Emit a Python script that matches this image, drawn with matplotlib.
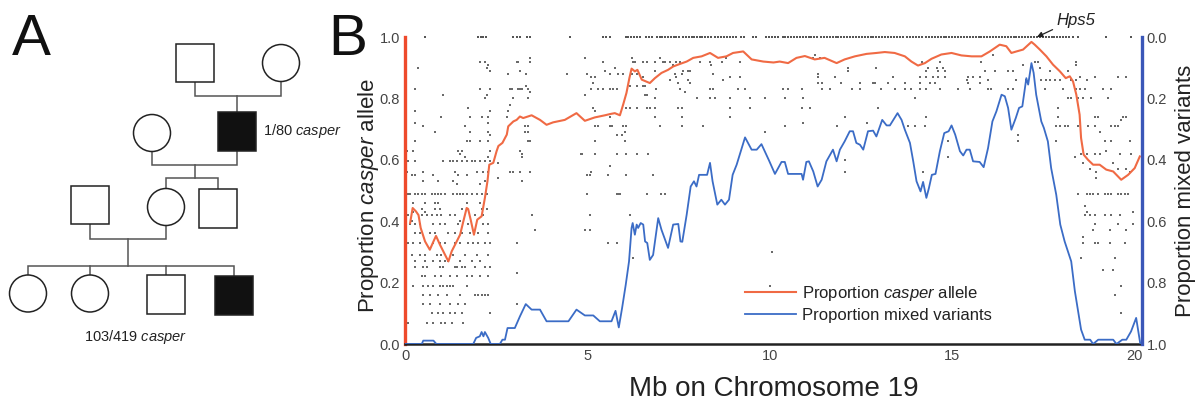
import matplotlib
matplotlib.use('Agg')
from matplotlib import pyplot as plt
from matplotlib.patches import Rectangle, Circle

plt.rcParams['font.family'] = ['Liberation Sans', 'DejaVu Sans']
plt.rcParams['mathtext.fontset'] = 'custom'
plt.rcParams['mathtext.rm'] = 'Liberation Sans'
plt.rcParams['mathtext.it'] = 'Liberation Sans:italic'

# smoothed proportion of casper allele along chr19 (Mb)
casper_x = [0.14, 0.21, 0.30, 0.37, 0.43, 0.55, 0.68, 0.78, 0.85, 0.96, 1.10, 1.19, 1.28, 1.37,
            1.51, 1.60, 1.69, 1.73, 1.80, 1.89, 1.98, 2.10, 2.19, 2.26, 2.31, 2.42, 2.51, 2.56,
            2.67, 2.79, 2.83, 2.97, 3.06, 3.15, 3.24, 3.47, 3.70, 3.88, 4.06, 4.38, 4.70, 4.93,
            5.20, 5.48, 5.62, 5.75, 5.89, 5.98, 6.07, 6.15, 6.21, 6.30, 6.37, 6.49, 6.71, 6.85,
            7.03, 7.21, 7.35, 7.53, 7.72, 7.90, 8.13, 8.36, 8.58, 8.81, 8.99, 9.27, 9.50, 9.82,
            10.10, 10.27, 10.50, 10.73, 10.96, 11.23, 11.50, 11.83, 12.05, 12.33, 12.65, 12.92,
            13.15, 13.42, 13.70, 13.88, 14.06, 14.25, 14.43, 14.70, 14.98, 15.25, 15.53, 15.80,
            16.03, 16.30, 16.48, 16.62, 16.76, 16.94, 17.17, 17.26, 17.40, 17.58, 17.76, 17.95,
            18.11, 18.22, 18.31, 18.40, 18.49, 18.53, 18.60, 18.72, 18.86, 19.04, 19.22, 19.41,
            19.63, 19.82, 20.00, 20.14]
casper_y = [0.394, 0.443, 0.432, 0.420, 0.378, 0.334, 0.307, 0.334, 0.352, 0.323, 0.290, 0.269,
            0.302, 0.323, 0.356, 0.400, 0.443, 0.440, 0.405, 0.356, 0.405, 0.416, 0.476, 0.530,
            0.584, 0.590, 0.628, 0.645, 0.655, 0.682, 0.709, 0.725, 0.730, 0.741, 0.736, 0.745,
            0.730, 0.714, 0.722, 0.730, 0.752, 0.727, 0.738, 0.745, 0.749, 0.752, 0.745, 0.780,
            0.818, 0.866, 0.897, 0.888, 0.893, 0.861, 0.850, 0.866, 0.883, 0.893, 0.904, 0.912,
            0.920, 0.932, 0.937, 0.948, 0.932, 0.937, 0.948, 0.953, 0.927, 0.920, 0.917, 0.920,
            0.915, 0.932, 0.938, 0.927, 0.932, 0.915, 0.927, 0.937, 0.945, 0.948, 0.951, 0.948,
            0.937, 0.920, 0.907, 0.915, 0.929, 0.943, 0.948, 0.940, 0.937, 0.937, 0.953, 0.975,
            0.970, 0.948, 0.953, 0.959, 0.984, 0.975, 0.959, 0.937, 0.910, 0.888, 0.866, 0.872,
            0.855, 0.812, 0.747, 0.671, 0.617, 0.600, 0.584, 0.584, 0.568, 0.562, 0.535, 0.551,
            0.573, 0.611]

# proportion of mixed variants (right axis, inverted)
mixed_x = [0.00, 0.46, 0.50, 0.78, 0.86, 1.87, 1.95, 2.05, 2.10, 2.15, 2.19, 2.28, 2.35, 2.60,
           2.67, 2.74, 2.81, 3.01, 3.15, 3.31, 3.47, 3.70, 3.88, 4.48, 4.70, 4.93, 5.16, 5.34,
           5.66, 5.77, 5.86, 5.95, 6.05, 6.14, 6.21, 6.24, 6.30, 6.35, 6.39, 6.46, 6.53, 6.58,
           6.64, 6.71, 6.80, 6.94, 7.03, 7.21, 7.35, 7.49, 7.55, 7.60, 7.72, 7.83, 7.92, 7.99,
           8.06, 8.28, 8.36, 8.43, 8.56, 8.67, 8.77, 8.88, 8.98, 9.09, 9.32, 9.50, 9.64, 9.77,
           9.98, 10.14, 10.32, 10.41, 10.50, 10.87, 10.91, 11.00, 11.07, 11.19, 11.31, 11.42,
           11.55, 11.73, 11.83, 11.92, 12.05, 12.19, 12.28, 12.37, 12.47, 12.56, 12.69, 12.83,
           12.92, 13.08, 13.20, 13.29, 13.50, 13.61, 13.70, 13.84, 13.93, 14.02, 14.13, 14.20,
           14.29, 14.36, 14.44, 14.54, 14.66, 14.78, 14.90, 14.98, 15.08, 15.21, 15.30, 15.39,
           15.48, 15.57, 15.75, 15.86, 15.98, 16.10, 16.21, 16.35, 16.44, 16.53, 16.62, 16.74,
           16.83, 16.92, 17.03, 17.08, 17.17, 17.23, 17.30, 17.37, 17.44, 17.51, 17.62, 17.71,
           17.85, 17.96, 18.08, 18.17, 18.26, 18.36, 18.45, 18.53, 18.63, 18.78, 18.86, 19.00,
           19.41, 19.50, 19.66, 19.77, 19.90, 20.04, 20.15]
mixed_y = [1.000, 1.000, 0.989, 0.989, 1.000, 1.000, 0.980, 0.975, 0.961, 0.975, 0.961, 0.980,
           1.000, 1.000, 0.986, 0.986, 0.948, 0.948, 0.910, 0.870, 0.888, 0.888, 0.926, 0.926,
           0.888, 0.907, 0.907, 0.926, 0.926, 0.892, 0.946, 0.883, 0.807, 0.731, 0.622, 0.606,
           0.644, 0.611, 0.622, 0.606, 0.611, 0.666, 0.671, 0.726, 0.710, 0.590, 0.628, 0.687,
           0.611, 0.609, 0.666, 0.667, 0.579, 0.487, 0.470, 0.487, 0.449, 0.449, 0.410, 0.470,
           0.546, 0.530, 0.546, 0.530, 0.449, 0.416, 0.327, 0.367, 0.367, 0.349, 0.403, 0.446,
           0.407, 0.407, 0.446, 0.446, 0.465, 0.407, 0.405, 0.438, 0.487, 0.465, 0.405, 0.367,
           0.405, 0.367, 0.340, 0.307, 0.307, 0.345, 0.351, 0.367, 0.307, 0.305, 0.324, 0.270,
           0.288, 0.288, 0.248, 0.270, 0.302, 0.345, 0.405, 0.470, 0.503, 0.472, 0.524, 0.492,
           0.449, 0.446, 0.372, 0.313, 0.307, 0.288, 0.318, 0.372, 0.386, 0.367, 0.367, 0.405,
           0.407, 0.424, 0.362, 0.275, 0.242, 0.188, 0.193, 0.231, 0.302, 0.264, 0.231, 0.226,
           0.134, 0.155, 0.085, 0.117, 0.188, 0.231, 0.275, 0.296, 0.340, 0.427, 0.514, 0.611,
           0.666, 0.698, 0.731, 0.828, 0.894, 0.953, 0.986, 0.986, 1.000, 0.986, 0.986, 1.000,
           0.986, 0.986, 0.959, 0.915, 0.997]

# variants fixed for casper allele (proportion 1.0)
top_row_x = [0.55, 2.00, 2.07, 2.15, 2.22, 2.97, 3.06, 3.15, 3.35, 3.42, 4.52, 5.42, 5.50, 5.62,
             6.05, 6.12, 6.20, 6.27, 6.35, 6.45, 6.60, 6.68, 6.76, 6.90, 6.98, 7.05, 7.13, 7.20,
             7.28, 7.36, 7.44, 7.50, 7.62, 7.70, 7.78, 7.86, 7.93, 8.00, 8.08, 8.15, 8.22, 8.30,
             8.38, 8.50, 8.58, 8.66, 8.74, 8.82, 8.90, 8.98, 9.06, 9.20, 9.28, 9.55, 9.62, 9.90,
             9.98, 10.06, 10.14, 10.22, 10.35, 10.42, 10.50, 10.58, 10.66, 10.74, 10.82, 10.90,
             10.98, 11.06, 11.14, 11.22, 11.30, 11.40, 11.48, 11.56, 11.64, 11.72, 11.80, 11.88,
             11.96, 12.04, 12.12, 12.20, 12.28, 12.36, 12.44, 12.52, 12.60, 12.68, 12.76, 12.84,
             12.92, 13.00, 13.08, 13.16, 13.24, 13.32, 13.40, 13.48, 13.56, 13.64, 13.76, 13.84,
             13.92, 14.00, 14.08, 14.16, 14.28, 14.36, 14.44, 14.52, 14.60, 14.68, 14.76, 14.84,
             14.92, 15.00, 15.08, 15.16, 15.24, 15.32, 15.40, 15.48, 15.56, 15.64, 15.72, 15.80,
             15.88, 15.96, 16.04, 16.12, 16.20, 16.28, 16.36, 16.44, 16.52, 16.60, 16.68, 16.76,
             16.84, 16.92, 17.00, 17.08, 17.16, 17.24, 17.32, 17.40, 17.48, 17.56, 17.64, 17.72,
             17.80, 17.88, 17.96, 18.04, 18.12, 18.20, 18.30, 18.45, 19.20, 19.90]

# remaining variants: allele proportion level and the positions (Mb) found at it
dot_levels = [
    # 0-2.5 Mb
    0.92, 0.91, 0.90, 0.89, 0.83, 0.81, 0.80, 0.77, 0.76, 0.74, 0.72, 0.71, 0.69, 0.68, 0.66,
    0.63, 0.62, 0.61, 0.595, 0.56, 0.55, 0.53, 0.52, 0.49, 0.46, 0.44, 0.43, 0.42, 0.40, 0.39,
    0.36, 0.33, 0.29, 0.27, 0.25, 0.22, 0.19, 0.16, 0.13, 0.10, 0.07,
    # 2.5-6.2 Mb
    0.93, 0.92, 0.90, 0.89, 0.88, 0.87, 0.85, 0.84, 0.83, 0.82, 0.81, 0.80, 0.78, 0.77, 0.76,
    0.74, 0.71, 0.69, 0.68, 0.66, 0.63, 0.62, 0.61, 0.59, 0.58, 0.56, 0.55, 0.54, 0.53, 0.49,
    0.42, 0.37, 0.33, 0.23, 0.13,
    # 6.2-11 Mb
    0.93, 0.92, 0.91, 0.89, 0.88, 0.87, 0.86, 0.85, 0.84, 0.83, 0.82, 0.81, 0.80, 0.77, 0.74,
    0.72, 0.71, 0.69, 0.62, 0.55, 0.49, 0.42, 0.30, 0.28, 0.19,
    # 11-15.9 Mb
    0.94, 0.93, 0.92, 0.90, 0.89, 0.88, 0.87, 0.86, 0.85, 0.83, 0.80, 0.77, 0.74, 0.72, 0.71,
    0.66, 0.61, 0.60, 0.56,
    # 15.9-20 Mb
    0.94, 0.92, 0.91, 0.90, 0.89, 0.87, 0.86, 0.83, 0.80, 0.77, 0.74, 0.73, 0.71, 0.69, 0.68,
    0.66, 0.63, 0.62, 0.61, 0.59, 0.57, 0.56, 0.54, 0.49, 0.45, 0.43, 0.42, 0.39, 0.37, 0.35,
    0.33, 0.28, 0.24, 0.19, 0.16, 0.10,
]
dot_positions = [
    # 0-2.5 Mb
    [2.05, 2.19], [2.28], [0.37, 2.26], [2.33], [0.27, 2.05, 2.33], [1.05, 2.24], [2.19],
    [1.74], [0.27, 2.33], [1.00, 1.78, 2.10, 2.28], [0.27, 2.28], [0.50, 1.64],
    [0.82, 1.78, 2.28], [2.33], [0.27, 1.69, 1.78, 2.05, 2.28],
    [0.05, 0.23, 1.46, 1.55, 2.33], [1.51], [1.64, 2.28],
    [0.09, 0.27, 1.05, 1.23, 1.32, 1.42, 1.55, 1.69, 1.83, 1.92, 2.05, 2.19, 2.33],
    [0.05, 0.50, 1.37, 1.96, 2.15, 2.28], [0.18, 0.27, 0.78, 1.46, 1.69],
    [0.50, 0.91, 1.32, 2.19], [1.42, 2.05],
    [0.09, 0.14, 0.27, 0.37, 0.46, 0.55, 0.73, 0.82, 0.91, 1.00, 1.10, 1.32, 1.42, 1.51, 1.60,
     1.69, 1.83, 1.96, 2.10, 2.24],
    [0.23, 0.55, 0.82, 0.91, 1.69, 2.05], [0.46, 0.82, 0.96, 1.55, 2.10, 2.24], [0.23, 0.55],
    [0.09, 0.46, 0.59, 0.73, 0.87, 1.00, 1.23, 1.37, 1.92, 2.15], [0.18, 1.51],
    [0.14, 0.27, 0.41, 0.78, 0.96, 1.10, 1.46, 1.74, 2.15, 2.28],
    [0.27, 0.41, 0.68, 0.82, 1.19, 1.37, 1.55, 1.78, 2.01, 2.28],
    [0.09, 0.23, 0.41, 0.78, 0.96, 1.10, 1.37, 1.51, 1.74, 1.87, 2.01, 2.19, 2.33],
    [0.18, 0.41, 0.55, 0.87, 1.00, 1.32, 1.64, 1.96, 2.28],
    [0.27, 0.55, 0.78, 0.96, 1.10, 1.19, 1.51, 1.83, 2.05],
    [0.27, 0.50, 0.59, 0.96, 1.05, 1.37, 1.42, 1.55, 1.64, 1.92, 2.19, 2.33],
    [0.46, 0.55, 0.82, 1.00, 1.23, 1.42, 1.69, 1.83, 2.05, 2.28],
    [0.23, 0.50, 0.64, 0.78, 0.96, 1.05, 1.14, 1.23, 1.32, 1.69],
    [0.50, 0.68, 0.91, 1.14, 1.51, 1.92, 2.01, 2.10, 2.19, 2.28],
    [0.50, 0.68, 0.96, 1.23, 1.46, 1.64], [0.73, 0.91, 1.05, 1.23, 1.37, 1.55, 2.33],
    [0.09, 0.59, 0.78, 1.00, 1.10, 1.28, 1.60],
    # 2.5-6.2 Mb
    [3.42, 4.93], [3.06, 3.11, 3.42, 5.43], [5.75], [3.15, 5.48],
    [2.83, 3.33, 4.43, 4.98, 5.62, 5.84, 5.98], [5.11, 5.21], [5.16], [3.33],
    [2.88, 2.92, 3.11, 3.15, 3.20, 3.38, 5.11, 5.30, 5.43, 5.62, 5.71, 5.80], [3.42], [4.93],
    [2.97, 3.38], [2.88], [5.16, 6.07, 6.16], [2.83, 5.21], [2.79, 5.62],
    [3.29, 3.38, 5.21, 5.30, 5.62, 5.66, 5.98, 6.07], [3.29, 3.38, 6.03], [5.80, 5.94],
    [3.38, 3.42, 5.21, 6.03], [3.15], [3.20, 4.82, 4.84, 5.21, 5.80, 6.07], [3.20], [2.56],
    [5.62], [2.88, 2.97, 3.15, 3.42, 5.11], [4.98, 5.07, 5.57, 6.07], [2.56], [3.20],
    [4.98, 5.80, 5.84, 5.89], [3.47, 5.07], [3.56, 4.93, 5.07], [3.06, 5.57, 5.80], [3.06],
    [3.06],
    # 6.2-11 Mb
    [6.21, 6.99, 8.81],
    [6.26, 6.30, 6.53, 6.62, 6.85, 7.08, 7.12, 7.26, 7.44, 7.53, 8.08, 8.36, 8.68, 9.18],
    [7.35, 8.40], [6.85, 7.62, 7.76, 7.81], [6.21, 6.35, 7.40, 7.58, 8.45],
    [6.53, 7.44, 8.90, 9.18], [7.26, 7.76, 8.72], [7.49, 7.81], [6.16, 6.35, 6.53, 6.58],
    [6.89, 7.53, 8.36, 8.45, 9.13, 9.32, 10.37, 10.50, 10.87], [7.67], [6.58, 6.62],
    [6.85, 7.99, 8.36, 8.49, 8.90, 9.45, 9.86, 10.41, 10.91],
    [6.35, 6.62, 6.71, 6.85, 7.49, 7.58, 8.90, 9.45, 10.87], [6.85, 7.58, 8.90], [10.91],
    [6.99, 7.58, 8.17, 10.41], [9.86], [6.35, 6.67], [6.80], [6.62, 7.03, 7.12], [6.16],
    [10.05], [6.26], [10.00],
    # 11-15.9 Mb
    [11.23], [11.19, 11.37], [14.16, 14.66], [12.15, 12.92, 14.34, 14.57, 14.75],
    [12.15, 14.29, 14.61, 14.79], [11.32],
    [11.32, 11.78, 13.38, 14.11, 14.29, 14.47, 14.61, 14.79, 15.43, 15.57, 15.75], [15.39],
    [11.32, 11.42, 11.96, 12.47, 12.83, 12.88, 13.24, 13.70, 14.11, 14.38, 14.52, 15.43, 15.75],
    [11.42, 11.64, 12.24, 12.47, 13.06, 13.42, 13.70, 13.88, 14.11, 14.29, 14.66, 15.16, 15.48],
    [13.97], [11.10, 12.97], [12.05, 14.29], [12.65], [11.83, 13.79, 13.97, 14.25],
    [14.89], [14.89], [12.05], [12.05, 14.20],
    # 15.9-20 Mb
    [16.11], [15.80, 17.26, 17.35, 18.40], [16.94, 18.40], [17.40],
    [15.89, 16.16, 16.53, 16.67, 17.67, 18.17], [18.49, 18.90, 19.54, 19.77],
    [15.98, 16.76, 17.03, 17.44, 17.58, 17.67, 17.81, 17.95, 18.26, 18.40, 18.68],
    [15.98, 16.07, 16.53, 16.67, 17.53, 18.04, 18.40, 18.49, 18.63, 19.13, 19.36],
    [18.17, 18.26, 18.45, 18.58, 18.81, 19.27], [17.90],
    [17.90, 18.90, 19.00, 19.68, 19.77], [19.63],
    [17.85, 17.95, 18.08, 18.17, 18.45, 18.72, 18.90, 19.36, 19.45, 19.54], [19.04], [16.80],
    [16.80, 17.85, 19.18, 19.36, 19.86], [19.22], [18.54, 18.68, 18.90, 19.04, 19.59, 19.91],
    [18.36], [18.58, 19.41], [18.77, 19.54, 19.77], [18.95, 19.86], [18.95],
    [18.45, 18.68, 18.77, 18.86, 19.00, 19.18, 19.27, 19.36, 19.54, 19.63, 19.73, 19.82],
    [18.63], [18.68, 19.95], [18.63, 18.77, 18.90, 19.18, 19.36, 19.59],
    [18.90, 19.54, 19.95], [18.86, 19.32, 19.77], [18.58],
    [18.58, 18.90, 19.00, 19.32, 19.73], [18.54, 19.45], [19.13, 19.41], [19.63], [19.45],
    [19.63],
]

# pedigree members: shape, affected, centre (panel units, y down)
pedigree = [
    ('square', False, 195, 63), ('circle', False, 281, 63),
    ('circle', False, 152, 133), ('square', True, 237, 131.5),
    ('square', False, 90, 205), ('circle', False, 166, 207), ('square', False, 218, 208.5),
    ('circle', False, 28, 293.5), ('circle', False, 90, 293.5),
    ('square', False, 166, 294.5), ('square', True, 234, 295.5),
]
pedigree_links = [
    [(195, 82), (195, 96), (281, 96), (281, 81.5)],
    [(237, 96), (237, 112)],
    [(152, 151.5), (152, 165), (237, 165), (237, 151)],
    [(195, 165), (195, 178)],
    [(166, 189), (166, 178), (218, 178), (218, 189)],
    [(90, 224), (90, 239), (166, 239), (166, 225.5)],
    [(128, 239), (128, 266)],
    [(28, 275), (28, 266), (234, 266), (234, 276)],
    [(90, 266), (90, 275)],
    [(166, 266), (166, 275)],
]

red = '#f06a44'
red_spine = '#ee4a2c'
blue = '#3b6cc6'
blue_spine = '#3b57b8'

fig = plt.figure(figsize=(11.96, 4.03), dpi=100)

# ---- panel A: pedigree ----
pa = fig.add_axes([0, 0, 0.3, 1])
pa.set_xlim(0, 358.8)
pa.set_ylim(403, 0)
pa.axis('off')
for pts in pedigree_links:
    xs, ys = zip(*pts)
    pa.plot(xs, ys, color='#555555', lw=1.1, solid_joinstyle='miter', zorder=1)
side, rad = 38.5, 18.5
for shape, affected, cx, cy in pedigree:
    fc = '#111111' if affected else 'white'
    if shape == 'square':
        p = Rectangle((cx - side / 2, cy - side / 2), side, side, fc=fc, ec='#222222', lw=1.1)
    else:
        p = Circle((cx, cy), rad, fc=fc, ec='#222222', lw=1.1)
    p.set_zorder(2)
    pa.add_patch(p)
pa.text(263, 131.5, r'1/80 $\mathit{casper}$', fontsize=10.5, va='center', color='#222222')
pa.text(136, 337, r'103/419 $\mathit{casper}$', fontsize=10.5, ha='center', va='center',
        color='#222222')
pa.text(12, 55, 'A', fontsize=42, va='baseline', color='#111111')
fig.text(328 / 1196, 1 - 55 / 403, 'B', fontsize=42, va='baseline', color='#111111')

# ---- panel B: casper allele and mixed variants along chr19 ----
ax = fig.add_axes([405 / 1196, 59 / 403, 737 / 1196, 307 / 403])
ax.set_xlim(0, 20.2)
ax.set_ylim(0, 1.0)

for lvl, xs in zip(dot_levels, dot_positions):
    ax.scatter(xs, [lvl] * len(xs), s=1.8, marker='s', color='#6a6a6a', lw=0, zorder=2)
ax.scatter(top_row_x, [1.0] * len(top_row_x), s=2.2, marker='s', color='#555555', lw=0,
           zorder=2, clip_on=False)
l1, = ax.plot(casper_x, casper_y, color=red, lw=1.5, zorder=3)

ax2 = ax.twinx()
l2, = ax2.plot(mixed_x, mixed_y, color=blue, lw=1.3, zorder=3)
ax2.set_ylim(1.0, 0)

ticks = [0.0, 0.2, 0.4, 0.6, 0.8, 1.0]
for a in (ax, ax2):
    a.set_yticks(ticks)
    a.set_yticklabels(['%.1f' % t for t in ticks])
    a.tick_params(length=0, labelsize=10.5, labelcolor='#444444', pad=3.5)
    a.spines['top'].set_visible(False)
ax.set_xticks([0, 5, 10, 15, 20])

ax.spines['right'].set_visible(False)
ax.spines['left'].set_color(red_spine)
ax.spines['left'].set_linewidth(2.4)
ax.spines['bottom'].set_color('#222222')
ax.spines['bottom'].set_linewidth(1.8)
ax2.spines['left'].set_visible(False)
ax2.spines['bottom'].set_visible(False)
ax2.spines['right'].set_color(blue_spine)
ax2.spines['right'].set_linewidth(2.4)

ax.set_xlabel('Mb on Chromosome 19', fontsize=20, color='#222222')
ax.xaxis.set_label_coords(0.5, -0.105)
ax.set_ylabel(r'Proportion $\mathit{casper}$ allele', fontsize=16, color='#222222')
ax.yaxis.set_label_coords(-0.033, 0.482)
ax2.set_ylabel('Proportion mixed variants', fontsize=16, color='#222222')
ax2.yaxis.set_label_coords(1.045, 0.498)

ax2.annotate('Hps5', xy=(17.32, 0.0), xytext=(17.86, -0.04), fontsize=12, style='italic',
             color='#222222', va='baseline',
             arrowprops=dict(arrowstyle='-|>', color='#222222', lw=0.9, mutation_scale=8,
                             shrinkA=1, shrinkB=0, relpos=(0, 0)),
             annotation_clip=False)

ax2.legend([l1, l2], [r'Proportion $\mathit{casper}$ allele', 'Proportion mixed variants'],
           loc='upper left', bbox_to_anchor=(0.461, 0.197), frameon=False, fontsize=12,
           handlelength=3.1, handletextpad=0.35, labelspacing=0.3, borderpad=0,
           borderaxespad=0, labelcolor='#222222')

fig.savefig('out.png', dpi=100)
